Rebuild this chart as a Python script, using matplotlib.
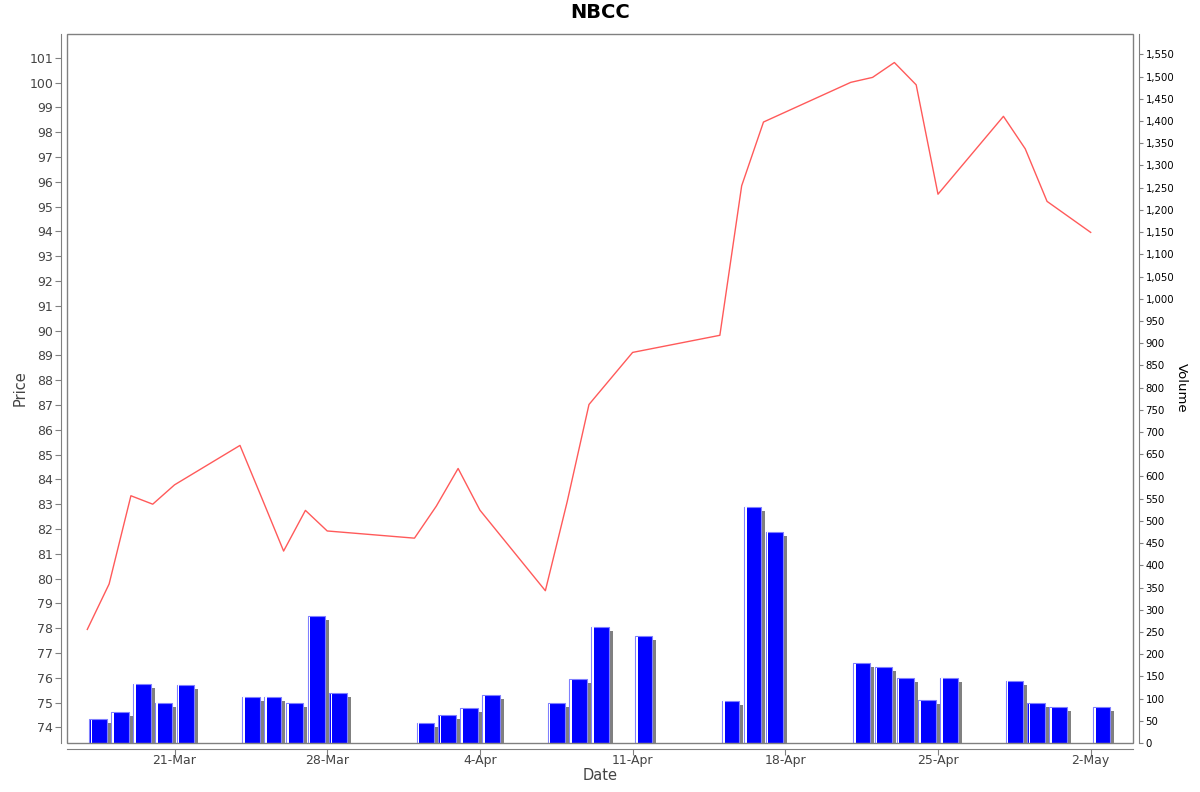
import pandas as pd
import matplotlib
matplotlib.use("Agg")
import matplotlib.pyplot as plt
import matplotlib.dates as mdates
from matplotlib.patches import Rectangle
from matplotlib.ticker import FuncFormatter, MultipleLocator
from matplotlib.transforms import ScaledTranslation

# trading days shown in the chart
dates = ["2025-03-17", "2025-03-18", "2025-03-19", "2025-03-20", "2025-03-21",
         "2025-03-24", "2025-03-25", "2025-03-26", "2025-03-27", "2025-03-28",
         "2025-04-01", "2025-04-02", "2025-04-03", "2025-04-04",
         "2025-04-07", "2025-04-08", "2025-04-09", "2025-04-11",
         "2025-04-15", "2025-04-16", "2025-04-17",
         "2025-04-21", "2025-04-22", "2025-04-23", "2025-04-24", "2025-04-25",
         "2025-04-28", "2025-04-29", "2025-04-30", "2025-05-02"]

price = [77.95, 79.78, 83.34, 83.00, 83.78,
         85.37, 83.25, 81.11, 82.75, 81.92,
         81.63, 82.92, 84.44, 82.76,
         79.51, 83.10, 87.02, 89.12,
         89.81, 95.84, 98.41,
         100.01, 100.21, 100.81, 99.91, 95.50,
         98.64, 97.33, 95.21, 93.96]

volume = [53, 69, 133, 91, 131,
          104, 104, 89, 285, 112,
          46, 62, 78, 107,
          89, 143, 261, 240,
          95, 532, 476,
          179, 170, 146, 96, 147,
          140, 89, 80, 80]

title = "NBCC"

plt.rcParams['font.family'] = ['DejaVu Sans']
GRAY = '#808080'
TXT = '#444444'

x = mdates.date2num(pd.to_datetime(dates))
vol = pd.Series(volume, dtype=float)

fig = plt.figure(figsize=(12, 7.92), dpi=100)
ax = fig.add_axes([67 / 1200, 49 / 792, 1066 / 1200, 709 / 792])
ax2 = ax.twinx()
ax.set_zorder(ax2.get_zorder() + 1)
ax.patch.set_visible(False)

# volume bars: shadow, body, highlight stripe
shadow = ax2.transData + ScaledTranslation(0.04, -0.04, fig.dpi_scale_trans)
ax2.bar(x + 0.1, vol, width=0.8, align='edge', color=GRAY, linewidth=0, transform=shadow)
ax2.bar(x + 0.1, vol, width=0.8, align='edge', color='#0000ff', edgecolor='#8080ff', linewidth=0.8)
ax2.bar(x + 0.15, vol - 1, width=0.075, align='edge', color='white', linewidth=0)

ax.plot(x, price, color='#ff5a5a', linewidth=1.0)

ax.set_xlim(x[0] - 0.93, x[-1] + 1.94)
ax.set_ylim(73.37, 101.96)
ax2.set_ylim(0, vol.max() * 3)

ax.yaxis.set_major_locator(MultipleLocator(1))
ax2.yaxis.set_major_locator(MultipleLocator(50))
ax2.yaxis.set_major_formatter(FuncFormatter(lambda v, _: f"{int(round(v)):,}"))
ax.xaxis.set_major_locator(mdates.WeekdayLocator(byweekday=mdates.FR))
ax.xaxis.set_major_formatter(mdates.DateFormatter('%-d-%b'))

for a in (ax, ax2):
    for s in a.spines.values():
        s.set_visible(False)
        s.set_color(GRAY)
ax.spines['left'].set_visible(True)
ax.spines['left'].set_position(('outward', 4))
ax.spines['bottom'].set_visible(True)
ax.spines['bottom'].set_position(('outward', 4))
ax2.spines['right'].set_visible(True)
ax2.spines['right'].set_position(('outward', 4))

ax.add_patch(Rectangle((0, 0), 1, 1, transform=ax.transAxes, fill=False,
                       edgecolor=GRAY, linewidth=1, clip_on=False, zorder=5))

ax.tick_params(axis='y', direction='out', length=4, color=GRAY, labelcolor=TXT, labelsize=9, pad=2)
ax.tick_params(axis='x', direction='out', length=4, color=GRAY, labelcolor=TXT, labelsize=9, pad=0)
ax2.tick_params(axis='y', direction='out', length=3, color=GRAY, labelcolor='black', labelsize=7.3, pad=2)

fig.text(0.5, 1 - 13 / 792, title, fontsize=14, weight='bold', ha='center', va='center')
fig.text(20 / 1200, 1 - 388 / 792, 'Price', rotation=90, fontsize=10.5, color=TXT,
         ha='center', va='center')
fig.text(600 / 1200, 1 - 775 / 792, 'Date', fontsize=10.5, color=TXT, ha='center', va='center')
fig.text(1181 / 1200, 1 - 388 / 792, 'Volume', rotation=270, fontsize=9.5, color='black',
         ha='center', va='center')

fig.savefig('out.png', dpi=100)
